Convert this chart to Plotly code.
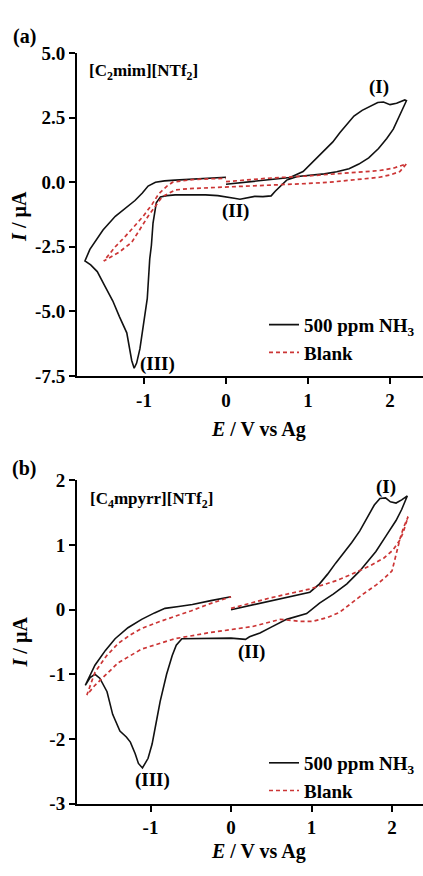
import plotly.graph_objects as go

# ---------------- data: cyclic voltammograms ----------------
# (a) [C2mim][NTf2], 500 ppm NH3 : scan 0 V -> 2.2 V -> -1.72 V -> 0 V
a_nh3_E = [0.0, 0.2, 0.4, 0.6, 0.78, 0.94, 1.06, 1.18, 1.3, 1.39, 1.48, 1.56, 1.66, 1.77, 1.85, 1.92, 2.0, 2.08, 2.18, 2.2,
           2.15, 2.1, 2.04, 1.96, 1.86, 1.74, 1.62, 1.5, 1.35, 1.2, 1.0, 0.87, 0.74, 0.66, 0.6, 0.55, 0.45, 0.35, 0.25,
           0.17, 0.1, 0.0, -0.1, -0.25, -0.45, -0.62, -0.72, -0.8, -0.85, -0.89, -0.91, -0.93, -0.96, -1.01, -1.05,
           -1.09, -1.12, -1.15, -1.18, -1.21, -1.3, -1.38, -1.48, -1.57, -1.65, -1.72,
           -1.66, -1.6, -1.5, -1.35, -1.22, -1.11, -1.02, -0.95, -0.86, -0.75, -0.62, -0.4, -0.2, 0.0]
a_nh3_I = [-0.08, -0.02, 0.05, 0.12, 0.18, 0.41, 0.8, 1.17, 1.55, 1.92, 2.25, 2.56, 2.78, 2.95, 3.08, 3.1, 3.0, 3.05, 3.18, 3.15,
           2.8, 2.45, 2.05, 1.69, 1.3, 0.94, 0.7, 0.52, 0.4, 0.32, 0.26, 0.22, 0.08, -0.15, -0.35, -0.53, -0.56, -0.55, -0.6,
           -0.66, -0.62, -0.56, -0.52, -0.49, -0.48, -0.49, -0.52, -0.57, -0.8, -1.58, -2.45, -2.97, -4.5, -5.6, -6.45,
           -7.0, -7.2, -6.9, -6.3, -5.83, -5.2, -4.6, -4.0, -3.46, -3.2, -3.05,
           -2.6, -2.33, -1.85, -1.32, -0.98, -0.71, -0.42, -0.15, 0.0, 0.05, 0.08, 0.12, 0.15, 0.19]

# (a) [C2mim][NTf2], blank
a_blank_E = [0.0, 0.5, 1.0, 1.27, 1.6, 1.87, 2.05, 2.2,
             2.12, 2.0, 1.87, 1.5, 1.27, 1.0, 0.5, 0.0, -0.22, -0.45, -0.62, -0.78, -0.95, -1.15, -1.3, -1.49,
             -1.35, -1.22, -1.01, -0.9, -0.82, -0.72, -0.65, -0.41, -0.2, 0.0]
a_blank_I = [0.02, 0.15, 0.24, 0.3, 0.38, 0.45, 0.55, 0.71,
             0.41, 0.28, 0.19, 0.07, 0.0, -0.05, -0.12, -0.18, -0.23, -0.25, -0.3, -0.57, -1.32, -2.33, -2.7, -3.05,
             -2.5, -2.07, -1.32, -0.85, -0.45, -0.15, 0.0, 0.1, 0.13, 0.15]

# (b) [C4mpyrr][NTf2], 500 ppm NH3 : scan 0 V -> 2.19 V -> -1.81 V -> 0 V
b_nh3_E = [0.0, 0.3, 0.6, 0.98, 1.1, 1.2, 1.3, 1.4, 1.5, 1.6, 1.7, 1.78, 1.85, 1.92, 1.98, 2.05, 2.12, 2.19,
           2.12, 2.05, 1.93, 1.8, 1.6, 1.44, 1.27, 1.1, 0.94, 0.69, 0.5, 0.36, 0.23, 0.18, 0.0, -0.2, -0.4, -0.61,
           -0.68, -0.73, -0.8, -0.88, -0.93, -0.98, -1.03, -1.1, -1.15, -1.19, -1.25, -1.3, -1.38, -1.47, -1.54,
           -1.63, -1.69, -1.75, -1.81,
           -1.69, -1.56, -1.44, -1.28, -1.11, -0.95, -0.82, -0.65, -0.48, -0.25, 0.0]
b_nh3_I = [0.0, 0.08, 0.16, 0.27, 0.4, 0.55, 0.72, 0.88, 1.04, 1.22, 1.45, 1.62, 1.72, 1.73, 1.67, 1.65, 1.7, 1.76,
           1.55, 1.38, 1.15, 0.9, 0.6, 0.4, 0.24, 0.1, -0.06, -0.15, -0.27, -0.36, -0.42, -0.46, -0.44, -0.44, -0.44, -0.45,
           -0.55, -0.71, -1.0, -1.42, -1.75, -2.08, -2.3, -2.45, -2.38, -2.23, -2.05, -1.97, -1.88, -1.62, -1.27,
           -1.06, -1.0, -1.05, -1.17,
           -0.86, -0.63, -0.45, -0.28, -0.15, -0.05, 0.02, 0.05, 0.08, 0.14, 0.2]

# (b) [C4mpyrr][NTf2], blank
b_blank_E = [0.0, 0.48, 0.98, 1.31, 1.5, 1.73, 1.9, 2.01, 2.1, 2.14, 2.2,
             2.14, 2.1, 2.05, 2.0, 1.9, 1.8, 1.64, 1.5, 1.35, 1.2, 1.02, 0.86, 0.61, 0.27, -0.14, -0.29, -0.7,
             -1.11, -1.4, -1.69, -1.79,
             -1.69, -1.55, -1.4, -1.25, -1.11, -0.9, -0.7, -0.5, -0.29, -0.1, 0.0]
b_blank_I = [0.02, 0.18, 0.32, 0.45, 0.55, 0.68, 0.8, 0.92, 1.08, 1.2, 1.44,
             1.26, 1.1, 0.85, 0.6, 0.48, 0.38, 0.24, 0.1, -0.04, -0.12, -0.18, -0.18, -0.15, -0.26, -0.33, -0.36, -0.45,
             -0.61, -0.82, -1.17, -1.32,
             -0.97, -0.72, -0.52, -0.39, -0.29, -0.19, -0.11, -0.02, 0.08, 0.16, 0.2]

# ---------------- axis ticks ----------------
x_ticks = [-1, 0, 1, 2]
x_ticktext = ["-1", "0", "1", "2"]
ya_ticks = [5.0, 2.5, 0.0, -2.5, -5.0, -7.5]
ya_ticktext = ["5.0", "2.5", "0.0", "-2.5", "-5.0", "-7.5"]
yb_ticks = [2, 1, 0, -1, -2, -3]
yb_ticktext = ["2", "1", "0", "-1", "-2", "-3"]

series_names = ["500 ppm NH<sub>3</sub>", "Blank"]

W, H = 423, 876
FONT = "Liberation Serif"
BLACK = "#111111"
RED = "#cc3535"


def fx(p):
    return p / W


def fy(p):
    return 1 - p / H


fig = go.Figure()

panels = [
    ("x", "y", "legend", a_nh3_E, a_nh3_I, a_blank_E, a_blank_I, "a"),
    ("x2", "y2", "legend2", b_nh3_E, b_nh3_I, b_blank_E, b_blank_I, "b"),
]
for xa, ya, leg, e1, i1, e2, i2, tag in panels:
    fig.add_trace(go.Scatter(x=e1, y=i1, mode="lines", name=series_names[0],
                             line=dict(color=BLACK, width=1.6),
                             xaxis=xa, yaxis=ya, legend=leg, legendgroup=tag + "1"))
    fig.add_trace(go.Scatter(x=e2, y=i2, mode="lines", name=series_names[1],
                             line=dict(color=RED, width=1.7, dash="4px,3px"),
                             xaxis=xa, yaxis=ya, legend=leg, legendgroup=tag + "2"))

axis_common = dict(showline=True, linewidth=2, linecolor="black", ticks="outside",
                   ticklen=6, tickwidth=2, tickcolor="black", showgrid=False,
                   zeroline=False, tickfont=dict(family=FONT, size=19, color="black", weight="bold"))

legend_common = dict(font=dict(family=FONT, size=19, color="black", weight="bold"),
                     bgcolor="rgba(0,0,0,0)", borderwidth=0, xanchor="left", yanchor="top",
                     traceorder="grouped", tracegroupgap=0, itemwidth=30)

fig.update_layout(
    width=W, height=H,
    margin=dict(l=0, r=0, t=0, b=0),
    paper_bgcolor="white", plot_bgcolor="white",
    xaxis=dict(domain=[fx(77), 1.0], range=[-1.817, 2.402], anchor="y",
               tickvals=x_ticks, ticktext=x_ticktext, ticklabelstandoff=0, **axis_common),
    yaxis=dict(domain=[fy(375), fy(44)], range=[-7.5, 5.0], anchor="x",
               tickvals=ya_ticks, ticktext=ya_ticktext, **axis_common),
    xaxis2=dict(domain=[fx(77), 1.0], range=[-1.913, 2.385], anchor="y2",
                tickvals=x_ticks, ticktext=x_ticktext, ticklabelstandoff=0, **axis_common),
    yaxis2=dict(domain=[fy(813), fy(482)], range=[-3, 2], anchor="x2",
                tickvals=yb_ticks, ticktext=yb_ticktext, **axis_common),
    legend=dict(x=fx(264), y=fy(303), **legend_common),
    legend2=dict(x=fx(264), y=fy(752), **legend_common),
    showlegend=True,
)

bold = dict(family=FONT, color="black", weight="bold")
notes = [
    # panel letters
    dict(text="(a)", x=fx(24), y=fy(27), xref="paper", yref="paper", font=dict(size=20, **bold)),
    dict(text="(b)", x=fx(24), y=fy(470), xref="paper", yref="paper", font=dict(size=20, **bold)),
    # ionic liquid names
    dict(text="[C<sub>2</sub>mim][NTf<sub>2</sub>]", x=fx(143), y=fy(64), xref="paper", yref="paper",
         font=dict(size=17, **bold)),
    dict(text="[C<sub>4</sub>mpyrr][NTf<sub>2</sub>]", x=fx(151), y=fy(502), xref="paper", yref="paper",
         font=dict(size=17, **bold)),
    # axis titles
    dict(text="<i>E</i> / V vs Ag", x=fx(258), y=fy(430), xref="paper", yref="paper", font=dict(size=20, **bold)),
    dict(text="<i>E</i> / V vs Ag", x=fx(258), y=fy(862), xref="paper", yref="paper", font=dict(size=20, **bold)),
    dict(text="<i>I</i> / µA", x=fx(20), y=fy(212), xref="paper", yref="paper", textangle=-90,
         font=dict(size=20, **bold)),
    dict(text="<i>I</i> / µA", x=fx(20), y=fy(648), xref="paper", yref="paper", textangle=-90,
         font=dict(size=20, **bold)),
    # peak labels (data coordinates)
    dict(text="(I)", x=1.87, y=3.68, xref="x", yref="y", font=dict(size=19, **bold)),
    dict(text="(II)", x=0.11, y=-1.13, xref="x", yref="y", font=dict(size=19, **bold)),
    dict(text="(III)", x=-0.83, y=-7.03, xref="x", yref="y", font=dict(size=19, **bold)),
    dict(text="(I)", x=1.93, y=1.9, xref="x2", yref="y2", font=dict(size=19, **bold)),
    dict(text="(II)", x=0.25, y=-0.65, xref="x2", yref="y2", font=dict(size=19, **bold)),
    dict(text="(III)", x=-0.97, y=-2.64, xref="x2", yref="y2", font=dict(size=19, **bold)),
]
for n in notes:
    fig.add_annotation(showarrow=False, xanchor="center", yanchor="middle", **n)

fig.write_html("out.html")
